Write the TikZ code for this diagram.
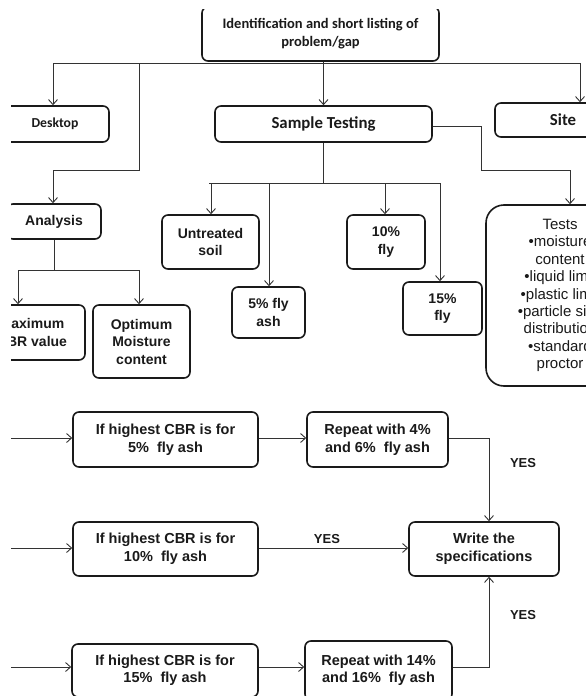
\documentclass[tikz,border=0pt]{standalone}
\usepackage{fontspec}
\setmainfont{Liberation Sans}
\newfontfamily\calfont{Carlito}
\usetikzlibrary{arrows.meta}
\definecolor{ink}{HTML}{1A1A1A}
\definecolor{wire}{HTML}{333333}
\tikzset{
  box/.style={draw=ink, line width=1.6pt, rounded corners=6pt, inner sep=0pt, align=center, text=ink},
  ab/.style={font=\fontsize{14}{17.5}\selectfont\bfseries},
  cb/.style={font=\calfont\fontsize{14.5}{18}\selectfont\bfseries},
  wireline/.style={draw=wire, line width=0.9pt},
  arr/.style={wireline, -{Straight Barb[length=5pt,width=9pt,line width=0.9pt]}},
  yes/.style={font=\fontsize{13}{15}\selectfont\bfseries, text=ink, inner sep=0pt}
}
\begin{document}
\begin{tikzpicture}[x=1pt,y=-1pt]
\useasboundingbox (0,0) rectangle (586,696);
\fill[white] (0,0) rectangle (586,696);
\begin{scope}
\clip (11,9) rectangle (586,696);
% top level
\node[box, cb, minimum width=237pt, minimum height=54pt] (top) at (320.5,34) {Identification and short listing of\\problem/gap};
\node[box, cb, font=\calfont\fontsize{13.7}{18}\selectfont\bfseries, minimum width=108pt, minimum height=36pt] (desktop) at (55,124) {Desktop};
\node[box, cb, font=\calfont\fontsize{16.8}{18}\selectfont\bfseries, minimum width=217pt, minimum height=36pt] (sample) at (323.5,124) {Sample Testing};
\node[box, cb, font=\calfont\fontsize{16.8}{18}\selectfont\bfseries, minimum width=136pt, minimum height=34pt] (site) at (563,120) {Site};
% analysis branch
\node[box, ab, minimum width=94pt, minimum height=35pt] (analysis) at (54,221.5) {Analysis};
\node[box, ab, minimum width=106pt, minimum height=55pt] (maxcbr) at (32,332.5) {Maximum\\CBR value};
\node[box, ab, minimum width=97pt, minimum height=73pt] (omc) at (141.5,341.5) {Optimum\\Moisture\\content};
% sample branch
\node[box, ab, minimum width=97pt, minimum height=54pt] (untreated) at (210.5,242) {Untreated\\soil};
\node[box, ab, minimum width=73pt, minimum height=51pt] (five) at (268.5,312.5) {5\% fly\\ash};
\node[box, ab, minimum width=78pt, minimum height=54pt] (ten) at (386,242) {10\%\\fly};
\node[box, ab, minimum width=79pt, minimum height=53pt] (fifteen) at (442.5,308.5) {15\%\\fly};
\node[box, rounded corners=18pt, font=\fontsize{15}{17.4}\selectfont, minimum width=148pt, minimum height=181pt] (tests) at (560,295.5) {Tests\\\textbullet moisture\\content\\\textbullet liquid limit\\\textbullet plastic limit\\\textbullet particle size\\distribution\\\textbullet standard\\proctor};
% decision rows
\node[box, ab, font=\fontsize{14.5}{18}\selectfont\bfseries, minimum width=185pt, minimum height=55pt] (ifa) at (165.5,439.5) {If highest CBR is for\\5\%\ \ fly ash};
\node[box, ab, font=\fontsize{14.5}{18}\selectfont\bfseries, minimum width=141pt, minimum height=55pt] (repa) at (377.5,439.5) {Repeat with 4\%\\and 6\%\ \ fly ash};
\node[box, ab, font=\fontsize{14.5}{18}\selectfont\bfseries, minimum width=185pt, minimum height=54pt] (ifb) at (165.5,549) {If highest CBR is for\\10\%\ \ fly ash};
\node[box, ab, font=\fontsize{14.5}{18}\selectfont\bfseries, minimum width=150pt, minimum height=54pt] (write) at (484,549) {Write the\\specifications};
\node[box, ab, font=\fontsize{14.5}{17}\selectfont\bfseries, minimum width=186pt, minimum height=53pt] (ifc) at (165,670.5) {If highest CBR is for\\15\%\ \ fly ash};
\node[box, ab, font=\fontsize{14.5}{17}\selectfont\bfseries, minimum width=147pt, minimum height=59pt] (repc) at (378.5,670.5) {Repeat with 14\%\\and 16\%\ \ fly ash};
% labels
\node[yes] (yes1) at (523,463) {YES};
\node[yes] (yes2) at (327,539) {YES};
\node[yes] (yes3) at (523,615) {YES};
% coordinates
\coordinate (busL) at (53,63);
\coordinate (busR) at (580,63);
\coordinate (brA) at (139,63);
\coordinate (brA2) at (139,170);
\coordinate (brA3) at (53,170);
\coordinate (anJ) at (54,270);
\coordinate (anL) at (18,270);
\coordinate (anR) at (139,270);
\coordinate (saJ) at (323,183);
\coordinate (saL) at (209,183);
\coordinate (saR) at (440,183);
\coordinate (saU) at (211,183);
\coordinate (saF) at (269,183);
\coordinate (saT) at (385,183);
\coordinate (teA) at (481,126);
\coordinate (teB) at (481,170);
\coordinate (teC) at (570,170);
\coordinate (inA) at (0,438);
\coordinate (inB) at (0,548);
\coordinate (inC) at (0,667);
\coordinate (spA) at (489,439.5);
\coordinate (spC) at (489,667);
% connectors
\draw[wireline] (busL) -- (busR);
\draw[arr] (busL) -- (busL |- desktop.north);
\draw[arr] (sample.north |- top.south) -- (sample.north);
\draw[arr] (busR) -- (busR |- site.north);
\draw[arr] (brA) -- (brA2) -- (brA3) -- (brA3 |- analysis.north);
\draw[wireline] (analysis.south) -- (anJ);
\draw[wireline] (anL) -- (anR);
\draw[arr] (anL) -- (anL |- maxcbr.north);
\draw[arr] (anR) -- (anR |- omc.north);
\draw[wireline] (sample.south -| saJ) -- (saJ);
\draw[wireline] (saL) -- (saR);
\draw[arr] (saU) -- (saU |- untreated.north);
\draw[arr] (saF) -- (saF |- five.north);
\draw[arr] (saT) -- (saT |- ten.north);
\draw[arr] (saR) -- (saR |- fifteen.north);
\draw[arr] (sample.east |- teA) -- (teA) -- (teB) -- (teC) -- (teC |- tests.north);
\draw[arr] (inA) -- (inA -| ifa.west);
\draw[arr] (inB) -- (inB -| ifb.west);
\draw[arr] (inC) -- (inC -| ifc.west);
\draw[arr] (ifa.east |- inA) -- (inA -| repa.west);
\draw[arr] (repa.east |- inA) -- (spA |- inA) -- (spA |- write.north);
\draw[arr] (ifb.east |- inB) -- (inB -| write.west);
\draw[arr] (ifc.east |- inC) -- (inC -| repc.west);
\draw[arr] (repc.east |- spC) -- (spC) -- (spC |- write.south);
\end{scope}
\end{tikzpicture}
\end{document}
